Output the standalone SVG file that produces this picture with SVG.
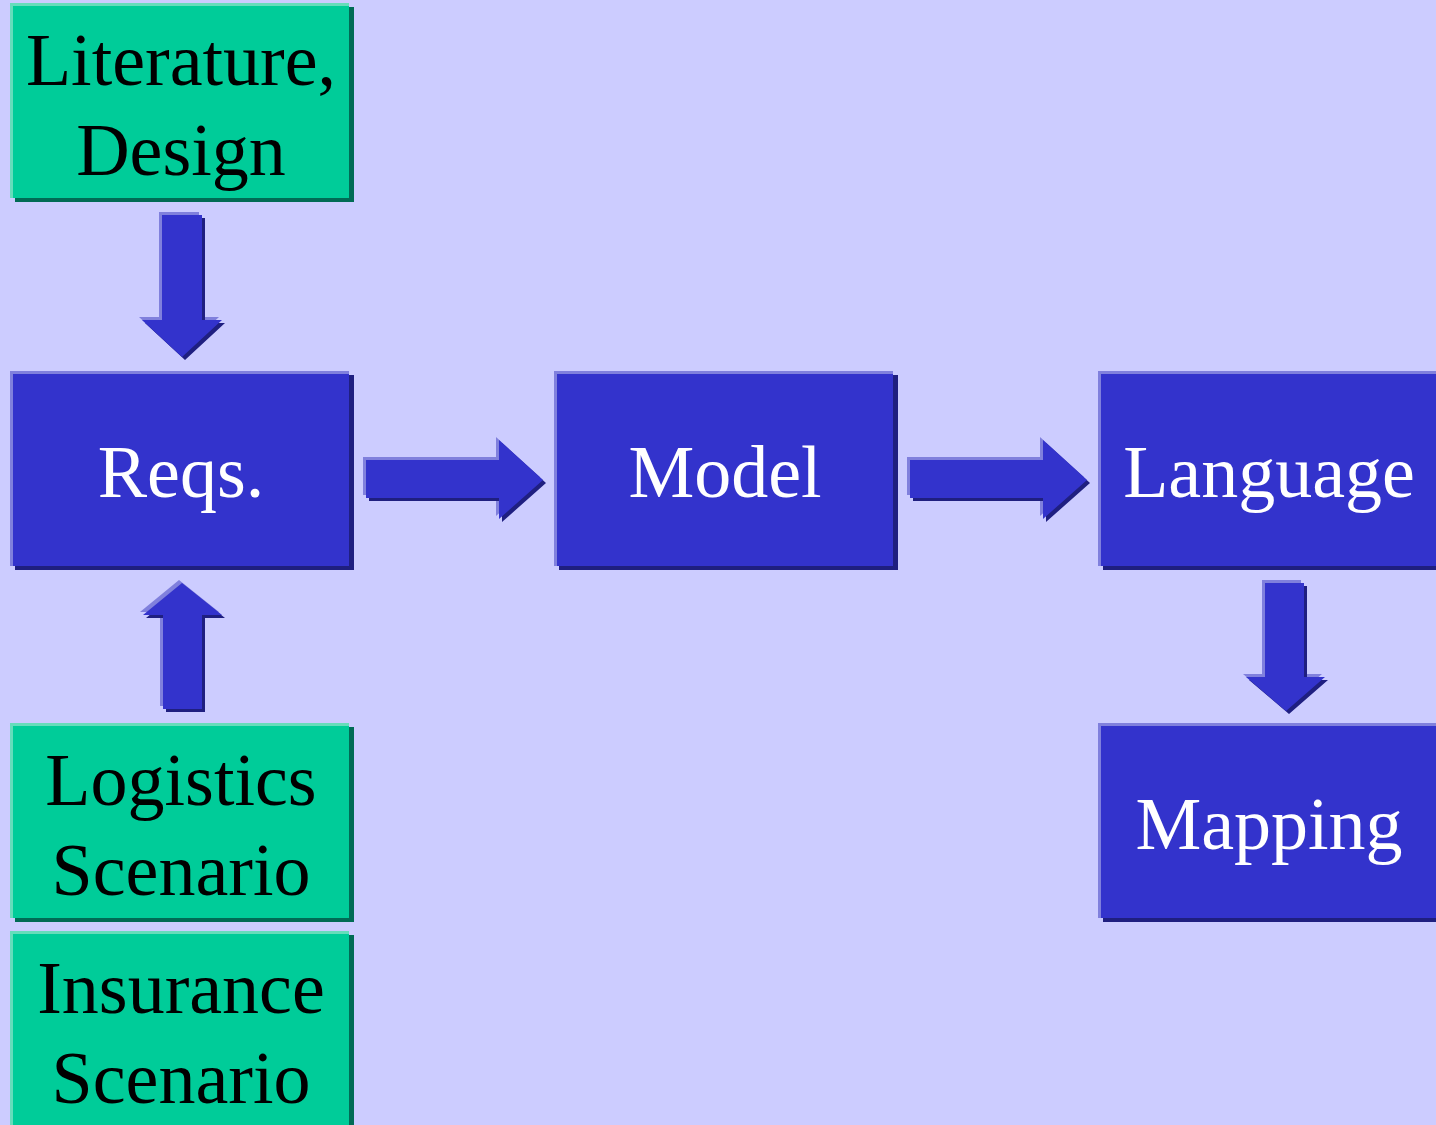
<svg xmlns="http://www.w3.org/2000/svg" width="1436" height="1125" viewBox="0 0 1436 1125">
<defs>
<style>
.bg{fill:#ccccff}
.gl{fill:#66ddbb}.gd{fill:#006b55}.gf{fill:#00cc99}
.bl{fill:#8080dd}.bd{fill:#1f1f80}.bf{fill:#3333cc}
.t{font-family:"Liberation Serif","Times New Roman",serif;font-size:74px;text-anchor:middle}
.tb{fill:#000000}.tw{fill:#ffffff}
</style>
<g id="gbox">
<rect class="gd" x="5" y="4" width="339" height="195"/>
<rect class="gl" x="0" y="0" width="339" height="195"/>
<rect class="gf" x="3" y="3" width="336" height="192"/>
</g>
<g id="bbox">
<rect class="bd" x="5" y="4" width="339" height="195"/>
<rect class="bl" x="0" y="0" width="339" height="195"/>
<rect class="bf" x="3" y="3" width="336" height="192"/>
</g>
<polygon id="downShape" points="162,215 202,215 202,320 222,320 182,357 142,320 162,320"/>
<polygon id="downShape2" points="1265,583 1304,583 1304,677 1325,677 1286,711 1246,677 1265,677"/>
<polygon id="upShape" points="182,583 222,615 202,615 202,709 163,709 163,615 143,615"/>
<polygon id="rightShape" points="366,460 499,460 499,440 543,480 499,519 499,498 366,498"/>
<g id="downArrow">
<use href="#downShape" class="bl" x="-3" y="-3"/>
<use href="#downShape" class="bd" x="3" y="3"/>
<use href="#downShape" class="bf"/>
</g>
<g id="downArrow2">
<use href="#downShape2" class="bl" x="-3" y="-3"/>
<use href="#downShape2" class="bd" x="3" y="3"/>
<use href="#downShape2" class="bf"/>
</g>
<g id="upArrow">
<use href="#upShape" class="bl" x="-3" y="-3"/>
<use href="#upShape" class="bd" x="3" y="3"/>
<use href="#upShape" class="bf"/>
</g>
<g id="rightArrow">
<use href="#rightShape" class="bl" x="-3" y="-3"/>
<use href="#rightShape" class="bd" x="3" y="3"/>
<use href="#rightShape" class="bf"/>
</g>
</defs>
<rect class="bg" x="0" y="0" width="1436" height="1125"/>
<g id="connectors">
<use href="#downArrow"/>
<use href="#upArrow"/>
<use href="#rightArrow"/>
<use href="#rightArrow" x="544"/>
<use href="#downArrow2"/>
</g>
<g id="node-literature">
<use href="#gbox" x="10" y="3"/>
<text class="t tb" x="181" y="85">Literature,</text>
<text class="t tb" x="181" y="175">Design</text>
</g>
<g id="node-reqs">
<use href="#bbox" x="10" y="371"/>
<text class="t tw" x="181" y="497">Reqs.</text>
</g>
<g id="node-model">
<use href="#bbox" x="554" y="371"/>
<text class="t tw" x="725" y="497">Model</text>
</g>
<g id="node-language">
<use href="#bbox" x="1098" y="371"/>
<text class="t tw" x="1269" y="497">Language</text>
</g>
<g id="node-mapping">
<use href="#bbox" x="1098" y="723"/>
<text class="t tw" x="1269" y="849">Mapping</text>
</g>
<g id="node-logistics">
<use href="#gbox" x="10" y="723"/>
<text class="t tb" x="181" y="805">Logistics</text>
<text class="t tb" x="181" y="895">Scenario</text>
</g>
<g id="node-insurance">
<use href="#gbox" x="10" y="931"/>
<text class="t tb" x="181" y="1013">Insurance</text>
<text class="t tb" x="181" y="1103">Scenario</text>
</g>
</svg>
